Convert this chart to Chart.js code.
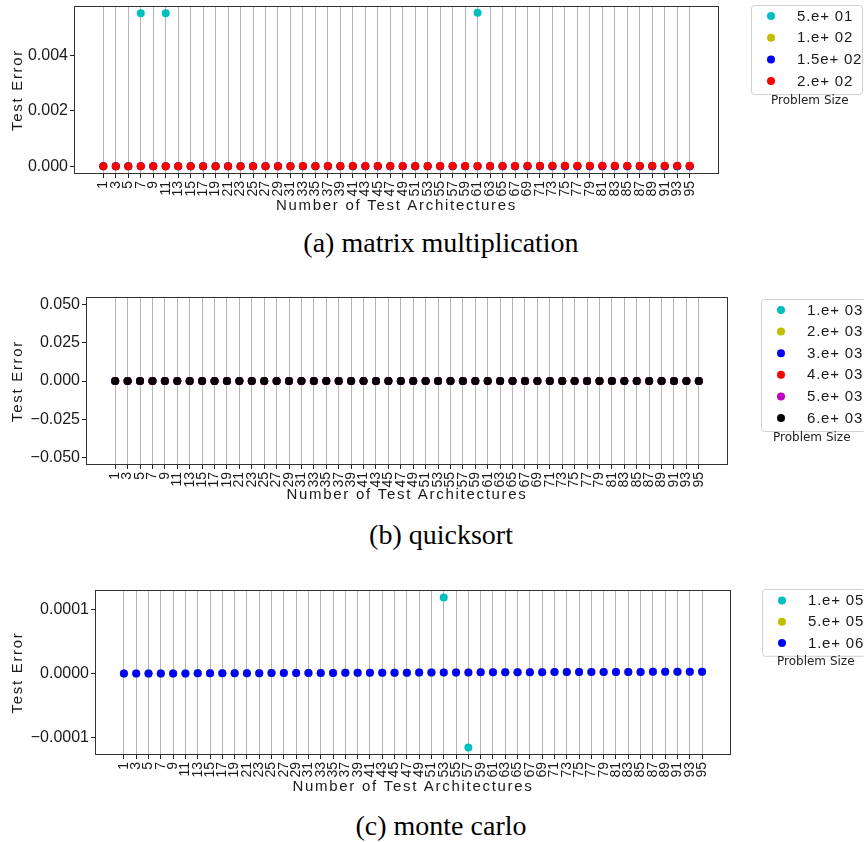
<!DOCTYPE html>
<html><head><meta charset="utf-8">
<script src="https://cdn.jsdelivr.net/npm/chart.js@4.4.1/dist/chart.umd.min.js"></script>
<style>
html,body{margin:0;padding:0;background:#fff;width:864px;height:842px;overflow:hidden}
canvas{position:absolute;left:0}
.cap{position:absolute;left:9px;width:864px;text-align:center;font-family:"Liberation Serif",serif;font-size:28px;line-height:32px;color:#000}
</style></head><body>
<canvas id="cA" width="864" height="220" style="top:0px"></canvas>
<div class="cap" style="top:227px">(a) matrix multiplication</div>
<canvas id="cB" width="864" height="220" style="top:285px"></canvas>
<div class="cap" style="top:519px">(b) quicksort</div>
<canvas id="cC" width="864" height="222" style="top:575px"></canvas>
<div class="cap" style="top:810px">(c) monte carlo</div>
<script>
// ---------- DATA ----------
const architectures = [1,3,5,7,9,11,13,15,17,19,21,23,25,27,29,31,33,35,37,39,41,43,45,47,49,51,53,55,57,59,61,63,65,67,69,71,73,75,77,79,81,83,85,87,89,91,93,95];
const architectureLabels = ["1","3","5","7","9","11","13","15","17","19","21","23","25","27","29","31","33","35","37","39","41","43","45","47","49","51","53","55","57","59","61","63","65","67","69","71","73","75","77","79","81","83","85","87","89","91","93","95"];
const xAxisTitle = "Number of Test Architectures";
const yAxisTitle = "Test Error";
const legendTitle = "Problem Size";

// (a) matrix multiplication
const mmSizeLabels = ["5.e+ 01", "1.e+ 02", "1.5e+ 02", "2.e+ 02"];
const mmSize50  = [0,0,0,0.00553,0,0.00553,0,0,0,0,0,0,0,0,0,0,0,0,0,0,0,0,0,0,0,0,0,0,0,0,0.00555,0,0,0,0,0,0,0,0,0,0,0,0,0,0,0,0,0];
const mmSize100 = [0,0,0,0,0,0,0,0,0,0,0,0,0,0,0,0,0,0,0,0,0,0,0,0,0,0,0,0,0,0,0,0,0,0,0,0,0,0,0,0,0,0,0,0,0,0,0,0];
const mmSize150 = [0,0,0,0,0,0,0,0,0,0,0,0,0,0,0,0,0,0,0,0,0,0,0,0,0,0,0,0,0,0,0,0,0,0,0,0,0,0,0,0,0,0,0,0,0,0,0,0];
const mmSize200 = [0.000001,0.000001,0.000002,0.000002,0.000003,0.000003,0.000004,0.000004,0.000005,0.000005,0.000006,0.000006,0.000007,0.000007,0.000008,0.000008,0.000009,0.000009,0.00001,0.00001,0.000011,0.000011,0.000012,0.000012,0.000013,0.000013,0.000014,0.000014,0.000015,0.000015,0.000016,0.000016,0.000017,0.000017,0.000018,0.000018,0.000019,0.000019,0.00002,0.00002,0.000021,0.000021,0.000022,0.000022,0.000023,0.000023,0.000024,0.000025];
const mmYTicks = [0, 0.002, 0.004];
const mmYTickLabels = ["0.000", "0.002", "0.004"];

// (b) quicksort
const qsSizeLabels = ["1.e+ 03", "2.e+ 03", "3.e+ 03", "4.e+ 03", "5.e+ 03", "6.e+ 03"];
const qsSize1000 = [0,0,0,0,0,0,0,0,0,0,0,0,0,0,0,0,0,0,0,0,0,0,0,0,0,0,0,0,0,0,0,0,0,0,0,0,0,0,0,0,0,0,0,0,0,0,0,0];
const qsSize2000 = [0,0,0,0,0,0,0,0,0,0,0,0,0,0,0,0,0,0,0,0,0,0,0,0,0,0,0,0,0,0,0,0,0,0,0,0,0,0,0,0,0,0,0,0,0,0,0,0];
const qsSize3000 = [0,0,0,0,0,0,0,0,0,0,0,0,0,0,0,0,0,0,0,0,0,0,0,0,0,0,0,0,0,0,0,0,0,0,0,0,0,0,0,0,0,0,0,0,0,0,0,0];
const qsSize4000 = [0,0,0,0,0,0,0,0,0,0,0,0,0,0,0,0,0,0,0,0,0,0,0,0,0,0,0,0,0,0,0,0,0,0,0,0,0,0,0,0,0,0,0,0,0,0,0,0];
const qsSize5000 = [0,0,0,0,0,0,0,0,0,0,0,0,0,0,0,0,0,0,0,0,0,0,0,0,0,0,0,0,0,0,0,0,0,0,0,0,0,0,0,0,0,0,0,0,0,0,0,0];
const qsSize6000 = [0,0,0,0,0,0,0,0,0,0,0,0,0,0,0,0,0,0,0,0,0,0,0,0,0,0,0,0,0,0,0,0,0,0,0,0,0,0,0,0,0,0,0,0,0,0,0,0];
const qsYTicks = [-0.05, -0.025, 0, 0.025, 0.05];
const qsYTickLabels = ["\u22120.050", "\u22120.025", "0.000", "0.025", "0.050"];

// (c) monte carlo
const mcSizeLabels = ["1.e+ 05", "5.e+ 05", "1.e+ 06"];
const mcSize1e5 = [0,0,0,0,0,0.0000001,0.0000002,0.0000002,0.0000003,0.0000004,0.0000004,0.0000005,0.0000006,0.0000006,0.0000007,0.0000008,0.0000008,0.0000009,0.000001,0.000001,0.0000011,0.0000012,0.0000012,0.0000013,0.0000014,0.0000014,0.000119,0.0000016,-0.000116,0.0000017,0.0000018,0.0000018,0.0000019,0.000002,0.000002,0.0000021,0.0000021,0.0000022,0.0000022,0.0000023,0.0000023,0.0000024,0.0000024,0.0000025,0.0000025,0.0000026,0.0000026,0.0000026];
const mcSize5e5 = [0,0,0,0,0,0.0000001,0.0000002,0.0000002,0.0000003,0.0000004,0.0000004,0.0000005,0.0000006,0.0000006,0.0000007,0.0000008,0.0000008,0.0000009,0.000001,0.000001,0.0000011,0.0000012,0.0000012,0.0000013,0.0000014,0.0000014,0.0000015,0.0000016,0.0000016,0.0000017,0.0000018,0.0000018,0.0000019,0.000002,0.000002,0.0000021,0.0000021,0.0000022,0.0000022,0.0000023,0.0000023,0.0000024,0.0000024,0.0000025,0.0000025,0.0000026,0.0000026,0.0000026];
const mcSize1e6 = [0,0,0,0,0,0.0000001,0.0000002,0.0000002,0.0000003,0.0000004,0.0000004,0.0000005,0.0000006,0.0000006,0.0000007,0.0000008,0.0000008,0.0000009,0.000001,0.000001,0.0000011,0.0000012,0.0000012,0.0000013,0.0000014,0.0000014,0.0000015,0.0000016,0.0000016,0.0000017,0.0000018,0.0000018,0.0000019,0.000002,0.000002,0.0000021,0.0000021,0.0000022,0.0000022,0.0000023,0.0000023,0.0000024,0.0000024,0.0000025,0.0000025,0.0000026,0.0000026,0.0000026];
const mcYTicks = [-0.0001, 0, 0.0001];
const mcYTickLabels = ["\u22120.0001", "0.0000", "0.0001"];

// ---------- STYLE ----------
const C_CYAN = '#00bfbf', C_YEL = '#bfbf00', C_BLUE = '#0000ff', C_RED = '#ff0000', C_MAG = '#bf00bf', C_BLK = '#000000';
Chart.defaults.font.family = "'Liberation Sans', Arial, sans-serif";
Chart.defaults.color = '#1a1a1a';
const TITLE_SPACING = '1.7px';

function setSpacing(ctx, v) {
  const c = ctx && ctx.chart && ctx.chart.ctx;
  if (c && 'letterSpacing' in c) c.letterSpacing = v;
}

const framePlugin = {
  id: 'frame',
  beforeDatasetsDraw(chart) {
    const a = chart.chartArea, ctx = chart.ctx;
    ctx.save();
    if ('letterSpacing' in ctx) ctx.letterSpacing = '0px';
    ctx.strokeStyle = '#333';
    ctx.lineWidth = 1;
    const l = Math.round(a.left) + 0.5, t = Math.round(a.top) + 0.5;
    const r = Math.round(a.right) - 0.5, b = Math.round(a.bottom) - 0.5;
    ctx.strokeRect(l, t, r - l, b - t);
    ctx.restore();
  }
};

const boxLegendPlugin = {
  id: 'boxLegend',
  afterDraw(chart, args, o) {
    const ctx = chart.ctx;
    const ds = chart.data.datasets;
    const n = ds.length;
    const bottom = o.top + o.firstDy + (n - 1) * o.rowH + o.bottomPad;
    ctx.save();
    const rr = 3, x0 = o.left + 0.5, y0 = o.top + 0.5, x1 = o.right - 0.5, y1 = bottom - 0.5;
    ctx.beginPath();
    ctx.moveTo(x0 + rr, y0); ctx.lineTo(x1 - rr, y0); ctx.arcTo(x1, y0, x1, y0 + rr, rr);
    ctx.lineTo(x1, y1 - rr); ctx.arcTo(x1, y1, x1 - rr, y1, rr);
    ctx.lineTo(x0 + rr, y1); ctx.arcTo(x0, y1, x0, y1 - rr, rr);
    ctx.lineTo(x0, y0 + rr); ctx.arcTo(x0, y0, x0 + rr, y0, rr);
    ctx.closePath();
    ctx.fillStyle = 'rgba(255,255,255,0.8)';
    ctx.fill();
    ctx.strokeStyle = '#d0d0d0';
    ctx.lineWidth = 1;
    ctx.stroke();
    ctx.font = "15px 'Liberation Sans', Arial, sans-serif";
    if ('letterSpacing' in ctx) ctx.letterSpacing = '0.8px';
    ctx.textBaseline = 'middle';
    ctx.textAlign = 'left';
    ds.forEach((d, i) => {
      const y = o.top + o.firstDy + i * o.rowH;
      ctx.beginPath();
      ctx.fillStyle = d.backgroundColor;
      ctx.arc(o.left + o.markerDx, y, 4, 0, Math.PI * 2);
      ctx.fill();
      ctx.fillStyle = '#1a1a1a';
      ctx.fillText(d.label, o.left + o.textDx, y + 0.5);
    });
    if ('letterSpacing' in ctx) ctx.letterSpacing = '0px';
    ctx.font = "12px 'DejaVu Sans', sans-serif";
    ctx.fillStyle = '#222';
    ctx.fillText(legendTitle, o.titleX, bottom + o.titleDy);
    ctx.restore();
  }
};

function makeChart(id, series, yMin, yMax, yTicks, yTickLabels, L) {
  const datasets = series.map((s, i) => ({
    label: s.label,
    data: architectures.map((x, j) => ({x: x, y: s.values[j]})),
    backgroundColor: s.color,
    borderColor: s.color,
    borderWidth: 0,
    pointRadius: 4,
    pointHoverRadius: 4,
    showLine: false,
    order: series.length - i
  }));
  return new Chart(document.getElementById(id), {
    type: 'scatter',
    data: {datasets: datasets},
    options: {
      responsive: false,
      animation: false,
      events: [],
      layout: {padding: {top: L.top, right: L.right, bottom: 0, left: 0}},
      plugins: {
        legend: {display: false},
        tooltip: {enabled: false},
        boxLegend: L.legend
      },
      scales: {
        x: {
          type: 'linear',
          min: -3.7, max: 99.7,
          afterBuildTicks: sc => { sc.ticks = architectures.map(v => ({value: v})); },
          afterFit: sc => { sc.height = L.xh; sc.paddingLeft = 0; sc.paddingRight = 0; },
          ticks: {
            autoSkip: false, maxRotation: 90, minRotation: 90,
            font: {size: 14}, padding: 3,
            color: (c) => { setSpacing(c, '0px'); return '#1a1a1a'; },
            callback: (v, i) => architectureLabels[i]
          },
          grid: {
            color: (c) => { setSpacing(c, TITLE_SPACING); return '#b4b4b4'; },
            lineWidth: 1, tickColor: '#222', tickLength: 4, drawTicks: true
          },
          border: {display: false},
          title: {display: true, text: xAxisTitle, font: {size: 15}, color: '#1a1a1a', padding: {top: 0, bottom: L.xtPad}}
        },
        y: {
          type: 'linear',
          min: yMin, max: yMax,
          afterBuildTicks: sc => { sc.ticks = yTicks.map(v => ({value: v})); },
          afterFit: sc => { sc.width = L.yw; sc.paddingTop = 0; sc.paddingBottom = 0; },
          ticks: {
            font: {size: 16}, padding: 2,
            color: (c) => { setSpacing(c, '0px'); return '#1a1a1a'; },
            callback: (v, i) => yTickLabels[i]
          },
          grid: {
            drawOnChartArea: false, drawTicks: true, tickLength: 4,
            color: (c) => { setSpacing(c, TITLE_SPACING); return '#222'; },
            tickColor: '#222'
          },
          border: {display: false},
          title: {display: true, text: yAxisTitle, font: {size: 15}, color: '#1a1a1a', padding: {top: 9, bottom: 0}}
        }
      }
    },
    plugins: [framePlugin, boxLegendPlugin]
  });
}

makeChart('cA', [
  {label: mmSizeLabels[0], values: mmSize50, color: C_CYAN},
  {label: mmSizeLabels[1], values: mmSize100, color: C_YEL},
  {label: mmSizeLabels[2], values: mmSize150, color: C_BLUE},
  {label: mmSizeLabels[3], values: mmSize200, color: C_RED}
], -0.000276, 0.00579, mmYTicks, mmYTickLabels,
{top: 6, right: 145, xh: 46, yw: 74, xtPad: 5,
 legend: {left: 751, right: 863, top: 5, firstDy: 11, rowH: 21.7, bottomPad: 14, markerDx: 20, textDx: 46, titleX: 771, titleDy: 5.5}});

makeChart('cB', [
  {label: qsSizeLabels[0], values: qsSize1000, color: C_CYAN},
  {label: qsSizeLabels[1], values: qsSize2000, color: C_YEL},
  {label: qsSizeLabels[2], values: qsSize3000, color: C_BLUE},
  {label: qsSizeLabels[3], values: qsSize4000, color: C_RED},
  {label: qsSizeLabels[4], values: qsSize5000, color: C_MAG},
  {label: qsSizeLabels[5], values: qsSize6000, color: C_BLK}
], -0.055, 0.055, qsYTicks, qsYTickLabels,
{top: 12, right: 136, xh: 40, yw: 86, xtPad: 1,
 legend: {left: 761, right: 866, top: 14, firstDy: 11, rowH: 21.6, bottomPad: 14, markerDx: 20, textDx: 46, titleX: 773, titleDy: 5.5}});

makeChart('cC', [
  {label: mcSizeLabels[0], values: mcSize1e5, color: C_CYAN},
  {label: mcSizeLabels[1], values: mcSize5e5, color: C_YEL},
  {label: mcSizeLabels[2], values: mcSize1e6, color: C_BLUE}
], -0.0001278, 0.0001308, mcYTicks, mcYTickLabels,
{top: 15, right: 133, xh: 42, yw: 95, xtPad: 1,
 legend: {left: 762, right: 866, top: 14, firstDy: 11.5, rowH: 21.3, bottomPad: 13.7, markerDx: 20, textDx: 46, titleX: 777, titleDy: 5}});
</script>
</body></html>
